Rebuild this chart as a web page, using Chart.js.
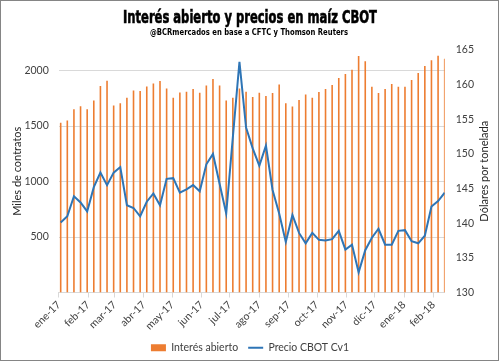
<!DOCTYPE html>
<html>
<head>
<meta charset="utf-8">
<script src="https://cdn.jsdelivr.net/npm/chart.js@4.4.1/dist/chart.umd.min.js"></script>
<style>
  html, body { margin: 0; padding: 0; background: #ffffff; }
  canvas { display: block; }
</style>
</head>
<body>
<canvas id="c" width="500" height="363"></canvas>
<script>
// ---- data ----
const weekDates = [
  '2017-01-03','2017-01-10','2017-01-17','2017-01-24','2017-01-31',
  '2017-02-07','2017-02-14','2017-02-21','2017-02-28',
  '2017-03-07','2017-03-14','2017-03-21','2017-03-28',
  '2017-04-04','2017-04-11','2017-04-18','2017-04-25',
  '2017-05-02','2017-05-09','2017-05-16','2017-05-23','2017-05-30',
  '2017-06-06','2017-06-13','2017-06-20','2017-06-27',
  '2017-07-04','2017-07-11','2017-07-18','2017-07-25',
  '2017-08-01','2017-08-08','2017-08-15','2017-08-22','2017-08-29',
  '2017-09-05','2017-09-12','2017-09-19','2017-09-26',
  '2017-10-03','2017-10-10','2017-10-17','2017-10-24','2017-10-31',
  '2017-11-07','2017-11-14','2017-11-21','2017-11-28',
  '2017-12-05','2017-12-12','2017-12-19','2017-12-26',
  '2018-01-02','2018-01-09','2018-01-16','2018-01-23','2018-01-30',
  '2018-02-06','2018-02-13'
];
const interesAbierto = [
  1529,1550,1652,1679,1652,1731,1860,1908,1686,1706,
  1755,1821,1815,1857,1884,1905,1839,1755,1803,1809,
  1833,1800,1866,1923,1866,1731,1755,1839,1809,1762,
  1800,1770,1797,1875,1706,1677,1734,1785,1755,1806,
  1833,1869,1932,1968,2007,2131,2083,1854,1797,1833,
  1878,1854,1854,1914,1977,2041,2092,2134,2107
];
const precioCBOT = [
  140.1,141.0,143.9,143.0,141.7,145.2,147.3,145.5,147.3,148.1,
  142.6,142.2,141.0,143.1,144.3,142.6,146.4,146.5,144.4,144.9,
  145.5,144.6,148.5,150.0,145.7,141.4,152.4,163.3,153.8,150.8,
  148.3,151.2,144.8,141.4,137.3,141.2,138.6,137.1,138.6,137.6,
  137.5,137.7,138.9,136.2,136.9,132.9,136.1,137.9,139.2,136.9,
  136.9,138.9,139.0,137.4,137.1,138.2,142.4,143.2,144.4
];
const monthStarts = [
  '2017-01-01','2017-02-01','2017-03-01','2017-04-01','2017-05-01','2017-06-01','2017-07-01',
  '2017-08-01','2017-09-01','2017-10-01','2017-11-01','2017-12-01','2018-01-01','2018-02-01'
];
const monthLabels = [
  'ene-17','feb-17','mar-17','abr-17','may-17','jun-17','jul-17',
  'ago-17','sep-17','oct-17','nov-17','dic-17','ene-18','feb-18'
];
const leftTicks = [500, 1000, 1500, 2000];
const rightTicks = [130, 135, 140, 145, 150, 155, 160, 165];

const titleText = 'Interés abierto y precios en maíz CBOT';
const subtitleText = '@BCRmercados en base a CFTC y Thomson Reuters';
const leftAxisTitle = 'Miles de contratos';
const rightAxisTitle = 'Dólares por tonelada';

// ---- helpers ----
const origin = Date.UTC(2017, 0, 1);
function dayOf(s) {
  const p = s.split('-').map(Number);
  return Math.round((Date.UTC(p[0], p[1] - 1, p[2]) - origin) / 86400000);
}
const weekDays = weekDates.map(dayOf);
const monthDays = monthStarts.map(dayOf);
const labelByDay = {};
monthDays.forEach((d, i) => { labelByDay[d] = monthLabels[i]; });

const barData = weekDays.map((d, i) => ({ x: d, y: interesAbierto[i] }));
const lineData = weekDays.map((d, i) => ({ x: d, y: precioCBOT[i] }));

const FONT = 'Lato, "Open Sans", sans-serif';
const TICK_COLOR = '#404040';

const decorPlugin = {
  id: 'decor',
  afterDraw(chart) {
    const ctx = chart.ctx;
    ctx.save();
    // border
    ctx.strokeStyle = '#858585';
    ctx.lineWidth = 1;
    ctx.strokeRect(0.5, 0.5, 498, 360);
    // title
    ctx.fillStyle = '#000';
    ctx.textAlign = 'center';
    ctx.textBaseline = 'alphabetic';
    ctx.font = 'bold 18px "DejaVu Sans Condensed", "DejaVu Sans", sans-serif';
    let w = ctx.measureText(titleText).width;
    ctx.save();
    ctx.translate(250, 23);
    ctx.scale(254 / w, 1);
    ctx.strokeStyle = '#000';
    ctx.lineWidth = 0.6;
    ctx.fillText(titleText, 0, 0);
    ctx.strokeText(titleText, 0, 0);
    ctx.restore();
    // subtitle
    ctx.font = 'bold 9.5px "DejaVu Sans Condensed", "DejaVu Sans", sans-serif';
    w = ctx.measureText(subtitleText).width;
    ctx.save();
    ctx.translate(249, 34.5);
    ctx.scale(198 / w, 1);
    ctx.fillText(subtitleText, 0, 0);
    ctx.restore();
    // axis titles
    ctx.fillStyle = '#262626';
    ctx.font = '11px ' + FONT;
    ctx.textBaseline = 'middle';
    const cy = (chart.chartArea.top + chart.chartArea.bottom) / 2;
    ctx.save();
    ctx.translate(17, cy);
    ctx.rotate(-Math.PI / 2);
    ctx.fillText(leftAxisTitle, 0, 0);
    ctx.restore();
    ctx.save();
    ctx.translate(484, cy);
    ctx.rotate(-Math.PI / 2);
    ctx.fillText(rightAxisTitle, 0, 0);
    ctx.restore();
    ctx.restore();
  }
};

new Chart(document.getElementById('c'), {
  type: 'bar',
  data: {
    datasets: [
      {
        type: 'bar',
        label: 'Interés abierto',
        data: barData,
        yAxisID: 'y',
        xAxisID: 'x',
        backgroundColor: '#ED7D31',
        borderWidth: 0,
        barThickness: 1.6,
        maxBarThickness: 1.6,
        inflateAmount: 0,
        pointStyle: 'rect',
        order: 2
      },
      {
        type: 'line',
        label: 'Precio CBOT Cv1',
        data: lineData,
        yAxisID: 'y2',
        xAxisID: 'x',
        borderColor: '#2E75B6',
        backgroundColor: '#2E75B6',
        borderWidth: 2,
        pointRadius: 0,
        pointHoverRadius: 0,
        pointBorderWidth: 2,
        pointBorderColor: '#2E75B6',
        pointStyle: 'line',
        tension: 0,
        fill: false,
        order: 1
      }
    ]
  },
  options: {
    responsive: false,
    devicePixelRatio: 1,
    animation: false,
    layout: { padding: { top: 50, left: 0, right: 0, bottom: 0 } },
    plugins: {
      title: { display: false },
      tooltip: { enabled: false },
      legend: {
        position: 'bottom',
        labels: {
          usePointStyle: true,
          pointStyleWidth: 15,
          boxWidth: 15,
          boxHeight: 7,
          padding: 10,
          color: TICK_COLOR,
          font: { family: FONT, size: 10.5 },
          sort: (a, b) => a.datasetIndex - b.datasetIndex
        }
      }
    },
    scales: {
      x: {
        type: 'linear',
        position: 'bottom',
        min: monthDays[0],
        max: weekDays[weekDays.length - 1],
        offset: false,
        grid: {
          offset: false,
          drawOnChartArea: false,
          drawTicks: true,
          tickLength: 5,
          color: '#d9d9d9'
        },
        border: { display: true, color: '#d9d9d9' },
        afterBuildTicks: (scale) => { scale.ticks = monthDays.map(v => ({ value: v })); },
        afterFit: (scale) => { scale.height = 40; },
        ticks: {
          autoSkip: false,
          minRotation: 45,
          maxRotation: 45,
          padding: 1,
          color: TICK_COLOR,
          font: { family: FONT, size: 10.5 },
          callback: (v) => labelByDay[v] || ''
        }
      },
      y: {
        type: 'linear',
        position: 'left',
        min: 0,
        max: 2185,
        grid: { color: '#d9d9d9', drawTicks: false, lineWidth: 1 },
        border: { display: false },
        afterBuildTicks: (scale) => { scale.ticks = leftTicks.map(v => ({ value: v })); },
        afterFit: (scale) => { scale.width = 58.8; },
        ticks: {
          padding: 10,
          color: TICK_COLOR,
          font: { family: FONT, size: 10.5 },
          callback: (v) => String(v)
        }
      },
      y2: {
        type: 'linear',
        position: 'right',
        min: 130,
        max: 165,
        grid: { display: false, drawTicks: false, drawOnChartArea: false },
        border: { display: false },
        afterBuildTicks: (scale) => { scale.ticks = rightTicks.map(v => ({ value: v })); },
        afterFit: (scale) => { scale.width = 55.3; },
        ticks: {
          padding: 11,
          color: TICK_COLOR,
          font: { family: FONT, size: 10.5 },
          callback: (v) => String(v)
        }
      }
    }
  },
  plugins: [decorPlugin]
});
</script>
</body>
</html>
